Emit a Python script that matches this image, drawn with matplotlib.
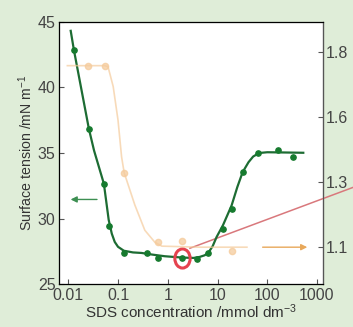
import matplotlib
matplotlib.use('Agg')
import matplotlib.pyplot as plt
from matplotlib.markers import MarkerStyle
from matplotlib.transforms import Affine2D

plt.rcParams['font.family'] = ['Liberation Sans', 'DejaVu Sans']
plt.rcParams['mathtext.fontset'] = 'custom'
plt.rcParams['mathtext.rm'] = 'Liberation Sans'
plt.rcParams['mathtext.default'] = 'regular'

# surface tension data (left axis)
st_conc = [0.013, 0.026, 0.052, 0.065, 0.131, 0.39, 0.65, 1.92, 3.85, 6.5,
           12.9, 19.2, 32, 66, 162, 324]
st_val = [42.85, 36.84, 32.66, 29.46, 27.38, 27.38, 27.0, 27.03, 26.9, 27.38,
          29.2, 30.76, 33.54, 35.04, 35.24, 34.68]

# fitted curve for surface tension
st_fit_conc = [0.0112, 0.013, 0.026, 0.033, 0.052, 0.065, 0.075, 0.086, 0.1,
               0.131, 0.2, 0.297, 0.5, 0.87, 1.92, 3.3, 4.4, 5.5, 6.5, 8,
               9.6, 12.9, 19.2, 25, 32, 42, 52, 65, 77, 100, 162, 530]
st_fit_val = [44.32, 42.85, 36.84, 35.19, 32.66, 29.9, 28.85, 28.22, 27.85,
              27.55, 27.42, 27.38, 27.25, 27.13, 27.03, 27.0, 27.08, 27.2,
              27.38, 27.9, 28.6, 29.5, 31.0, 32.4, 33.54, 34.3, 34.73, 34.95,
              35.02, 35.06, 35.05, 35.02]

# second property (right axis)
r_conc = [0.025, 0.054, 0.131, 0.65, 1.92, 19.2]
r_val = [1.797, 1.797, 1.386, 1.118, 1.124, 1.085]
r_fit_conc = [0.0096, 0.054, 0.063, 0.08, 0.1, 0.118, 0.133, 0.218, 0.346,
              0.55, 0.76, 4.4, 39]
r_fit_val = [1.797, 1.797, 1.793, 1.717, 1.588, 1.447, 1.386, 1.262, 1.165,
             1.119, 1.104, 1.1, 1.1]

right_ticks = [1.1, 1.35, 1.6, 1.85]
right_labels = ['1.1', '1.3', '1.6', '1.8']

bg = '#dfedd8'
green = '#1d6c33'
orange = '#f5cb9c'
red = '#e5434f'

fig = plt.figure(figsize=(3.53, 3.27), dpi=100, facecolor=bg)
ax = fig.add_axes([0.167, 0.131, 0.748, 0.802])
ax.set_facecolor('white')

ax.plot(st_fit_conc, st_fit_val, color=green, lw=1.6, zorder=4)
ax.plot(st_conc, st_val, 'o', color='#167a2e', ms=3.8, zorder=5)

ax.set_xscale('log')
ax.set_xlim(0.0065, 1320)
ax.set_ylim(25, 45)
ax.set_yticks([25, 30, 35, 40, 45])
ax.set_xticks([0.01, 0.1, 1, 10, 100, 1000])
ax.set_xticklabels(['0.01', '0.1', '1', '10', '100', '1000'])
ax.tick_params(direction='in', labelsize=11.5, colors='#555555', labelcolor='#444444',
               length=3.5, width=0.8, pad=2.5)
ax.tick_params(which='minor', direction='in', length=2, width=0.6, colors='#555555')
ax.set_xlabel('SDS concentration /mmol dm$^{-3}$', fontsize=11, color='#333333',
              labelpad=0)
ax.set_ylabel('Surface tension /mN m$^{-1}$', fontsize=10.2, color='#333333',
              labelpad=2)
for s in ax.spines.values():
    s.set_color('#555555')
    s.set_linewidth(0.9)

ax2 = ax.twinx()
ax2.set_ylim(0.958, 1.965)
ax2.plot(r_fit_conc, r_fit_val, color=orange, lw=1.2, alpha=0.7, zorder=2)
ax2.plot(r_conc, r_val, 'o', color=orange, ms=4.5, alpha=0.75, zorder=2)
ax2.set_yticks(right_ticks)
ax2.set_yticklabels(right_labels)
ax2.tick_params(direction='in', labelsize=11.5, colors='#555555', labelcolor='#444444',
                length=3.5, width=0.8, pad=2)
ax2.spines['right'].set_color('#555555')

# arrows pointing at each axis
ax.annotate('', xy=(0.0098, 31.46), xytext=(0.043, 31.46),
            arrowprops=dict(arrowstyle='-|>', color='#3d8f52', lw=1.0,
                            mutation_scale=9))
ax2.annotate('', xy=(725, 1.1), xytext=(71, 1.1),
             arrowprops=dict(arrowstyle='-|>', color='#e8a85a', lw=1.0,
                             mutation_scale=9))

# red highlight at the minimum
ax.plot([2.79, 5300], [27.74, 32.38], color='#d9787c', lw=1.1, clip_on=False, zorder=3)
oval = MarkerStyle('o', transform=Affine2D().scale(1, 1.25))
ax.plot([1.9], [27.03], marker=oval, ms=11, mfc='none', mec=red, mew=2.2,
        zorder=6, ls='none')

fig.savefig('out.png', dpi=100, facecolor=bg)
